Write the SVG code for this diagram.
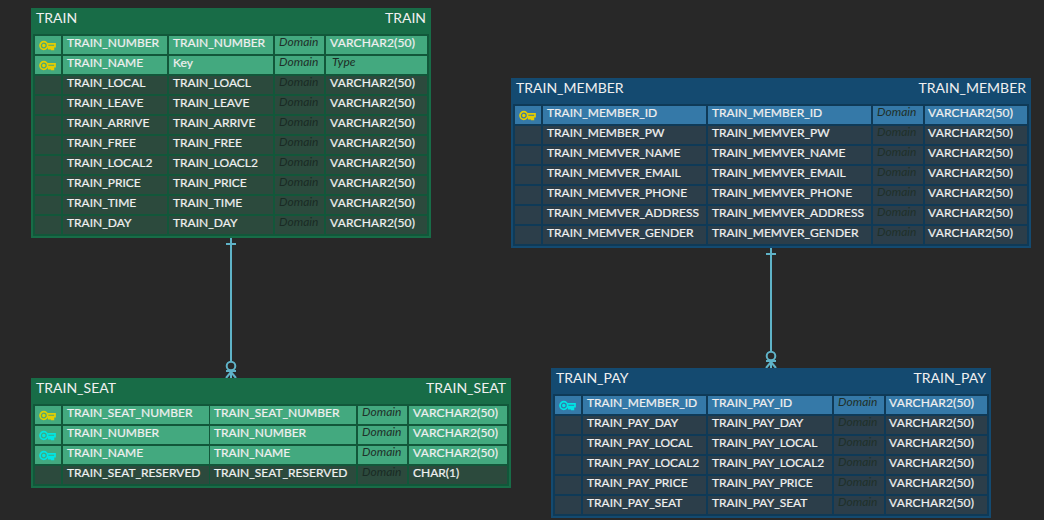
<svg xmlns="http://www.w3.org/2000/svg" width="1044" height="520" viewBox="0 0 1044 520">
<style>
text{font-family:"Lato","Noto Sans",sans-serif;font-size:12px;fill:#f0f0f0;stroke:#f0f0f0;stroke-width:.2px}
.h{font-size:14px;stroke-width:0}
.r{text-anchor:end}
.v{letter-spacing:.16px}
.d{font-style:italic;font-size:12px;fill:#1f3029;stroke-width:0}
.dm{font-style:italic;font-size:12px;fill:#1a2a24;stroke-width:0}
.t{font-style:italic;font-size:12px;fill:#1c2c24;stroke-width:0}
.go{fill:#186c47}.gb{fill:#12573a}.gp{fill:#43a97f}.gn{fill:#2c4a3d}
.bo{fill:#144a70}.bb{fill:#0f3a57}.bp{fill:#3579a8}.bn{fill:#2c3e4a}
.c{stroke:#5fb3c8;stroke-width:2;fill:none}
.k{fill:none;stroke-width:1.700}
.ky{stroke:#e4cd00}.kc{stroke:#00e5e5}
</style>
<defs>
<g id="key"><circle cx="3.800" cy="4.500" r="3.800"/><circle cx="3.800" cy="4.500" r="0.900"/><path d="M7.600 2.900H15V5.700H13.400V8.300H11.800V5.700H10.400V7.600H8.800V5.700H7.600"/></g>
</defs>
<rect width="1044" height="520" fill="#282828"/>
<g id="connectors">
<path class="c" d="M231 238V361.500M226 244H236M226 371H236M231 371V378M231 372L226 378M231 372L236 378"/>
<circle class="c" cx="231" cy="366" r="4.300"/>
<path class="c" d="M771 248V351.500M766 254H776M766 361H776M771 361V368M771 362L766 368M771 362L776 368"/>
<circle class="c" cx="771" cy="356" r="4.300"/>
</g>
<g id="train">
<rect class="go" x="31" y="8" width="400" height="230"/><rect class="gb" x="33" y="34" width="396" height="202"/>
<text class="h" x="36" y="23">TRAIN</text><text class="h r" x="426" y="23">TRAIN</text>
<rect class="gp" x="35" y="36" width="26" height="18"/><rect class="gp" x="63" y="36" width="104" height="18"/><rect class="gp" x="169" y="36" width="104" height="18"/><rect class="gp" x="275" y="36" width="49" height="18"/><rect class="gp" x="326" y="36" width="101" height="18"/>
<use href="#key" class="k ky" x="40" y="41"/>
<text x="67" y="47">TRAIN_NUMBER</text><text x="173" y="47">TRAIN_NUMBER</text><text class="d" x="279" y="46">Domain</text><text class="v" x="330" y="47">VARCHAR2(50)</text>
<rect class="gp" x="35" y="56" width="26" height="18"/><rect class="gp" x="63" y="56" width="104" height="18"/><rect class="gp" x="169" y="56" width="104" height="18"/><rect class="gp" x="275" y="56" width="49" height="18"/><rect class="gp" x="326" y="56" width="101" height="18"/>
<use href="#key" class="k ky" x="40" y="61"/>
<text x="67" y="67">TRAIN_NAME</text><text x="173" y="67">Key</text><text class="d" x="279" y="66">Domain</text><text class="t" x="332" y="66">Type</text>
<rect class="gn" x="35" y="76" width="26" height="18"/><rect class="gn" x="63" y="76" width="104" height="18"/><rect class="gn" x="169" y="76" width="104" height="18"/><rect class="gn" x="275" y="76" width="49" height="18"/><rect class="gn" x="326" y="76" width="101" height="18"/>
<text x="67" y="87">TRAIN_LOCAL</text><text x="173" y="87">TRAIN_LOACL</text><text class="dm" x="279" y="86">Domain</text><text class="v" x="330" y="87">VARCHAR2(50)</text>
<rect class="gn" x="35" y="96" width="26" height="18"/><rect class="gn" x="63" y="96" width="104" height="18"/><rect class="gn" x="169" y="96" width="104" height="18"/><rect class="gn" x="275" y="96" width="49" height="18"/><rect class="gn" x="326" y="96" width="101" height="18"/>
<text x="67" y="107">TRAIN_LEAVE</text><text x="173" y="107">TRAIN_LEAVE</text><text class="dm" x="279" y="106">Domain</text><text class="v" x="330" y="107">VARCHAR2(50)</text>
<rect class="gn" x="35" y="116" width="26" height="18"/><rect class="gn" x="63" y="116" width="104" height="18"/><rect class="gn" x="169" y="116" width="104" height="18"/><rect class="gn" x="275" y="116" width="49" height="18"/><rect class="gn" x="326" y="116" width="101" height="18"/>
<text x="67" y="127">TRAIN_ARRIVE</text><text x="173" y="127">TRAIN_ARRIVE</text><text class="dm" x="279" y="126">Domain</text><text class="v" x="330" y="127">VARCHAR2(50)</text>
<rect class="gn" x="35" y="136" width="26" height="18"/><rect class="gn" x="63" y="136" width="104" height="18"/><rect class="gn" x="169" y="136" width="104" height="18"/><rect class="gn" x="275" y="136" width="49" height="18"/><rect class="gn" x="326" y="136" width="101" height="18"/>
<text x="67" y="147">TRAIN_FREE</text><text x="173" y="147">TRAIN_FREE</text><text class="dm" x="279" y="146">Domain</text><text class="v" x="330" y="147">VARCHAR2(50)</text>
<rect class="gn" x="35" y="156" width="26" height="18"/><rect class="gn" x="63" y="156" width="104" height="18"/><rect class="gn" x="169" y="156" width="104" height="18"/><rect class="gn" x="275" y="156" width="49" height="18"/><rect class="gn" x="326" y="156" width="101" height="18"/>
<text x="67" y="167">TRAIN_LOCAL2</text><text x="173" y="167">TRAIN_LOACL2</text><text class="dm" x="279" y="166">Domain</text><text class="v" x="330" y="167">VARCHAR2(50)</text>
<rect class="gn" x="35" y="176" width="26" height="18"/><rect class="gn" x="63" y="176" width="104" height="18"/><rect class="gn" x="169" y="176" width="104" height="18"/><rect class="gn" x="275" y="176" width="49" height="18"/><rect class="gn" x="326" y="176" width="101" height="18"/>
<text x="67" y="187">TRAIN_PRICE</text><text x="173" y="187">TRAIN_PRICE</text><text class="dm" x="279" y="186">Domain</text><text class="v" x="330" y="187">VARCHAR2(50)</text>
<rect class="gn" x="35" y="196" width="26" height="18"/><rect class="gn" x="63" y="196" width="104" height="18"/><rect class="gn" x="169" y="196" width="104" height="18"/><rect class="gn" x="275" y="196" width="49" height="18"/><rect class="gn" x="326" y="196" width="101" height="18"/>
<text x="67" y="207">TRAIN_TIME</text><text x="173" y="207">TRAIN_TIME</text><text class="dm" x="279" y="206">Domain</text><text class="v" x="330" y="207">VARCHAR2(50)</text>
<rect class="gn" x="35" y="216" width="26" height="18"/><rect class="gn" x="63" y="216" width="104" height="18"/><rect class="gn" x="169" y="216" width="104" height="18"/><rect class="gn" x="275" y="216" width="49" height="18"/><rect class="gn" x="326" y="216" width="101" height="18"/>
<text x="67" y="227">TRAIN_DAY</text><text x="173" y="227">TRAIN_DAY</text><text class="dm" x="279" y="226">Domain</text><text class="v" x="330" y="227">VARCHAR2(50)</text>
</g>
<g id="train_seat">
<rect class="go" x="31" y="378" width="480" height="110"/><rect class="gb" x="33" y="404" width="476" height="82"/>
<text class="h" x="36" y="393">TRAIN_SEAT</text><text class="h r" x="506" y="393">TRAIN_SEAT</text>
<rect class="gp" x="35" y="406" width="26" height="18"/><rect class="gp" x="63" y="406" width="146" height="18"/><rect class="gp" x="210" y="406" width="146" height="18"/><rect class="gp" x="358" y="406" width="49" height="18"/><rect class="gp" x="409" y="406" width="98" height="18"/>
<use href="#key" class="k ky" x="40" y="411"/>
<text x="67" y="417">TRAIN_SEAT_NUMBER</text><text x="214" y="417">TRAIN_SEAT_NUMBER</text><text class="d" x="362" y="416">Domain</text><text class="v" x="413" y="417">VARCHAR2(50)</text>
<rect class="gp" x="35" y="426" width="26" height="18"/><rect class="gp" x="63" y="426" width="146" height="18"/><rect class="gp" x="210" y="426" width="146" height="18"/><rect class="gp" x="358" y="426" width="49" height="18"/><rect class="gp" x="409" y="426" width="98" height="18"/>
<use href="#key" class="k kc" x="40" y="431"/>
<text x="67" y="437">TRAIN_NUMBER</text><text x="214" y="437">TRAIN_NUMBER</text><text class="d" x="362" y="436">Domain</text><text class="v" x="413" y="437">VARCHAR2(50)</text>
<rect class="gp" x="35" y="446" width="26" height="18"/><rect class="gp" x="63" y="446" width="146" height="18"/><rect class="gp" x="210" y="446" width="146" height="18"/><rect class="gp" x="358" y="446" width="49" height="18"/><rect class="gp" x="409" y="446" width="98" height="18"/>
<use href="#key" class="k kc" x="40" y="451"/>
<text x="67" y="457">TRAIN_NAME</text><text x="214" y="457">TRAIN_NAME</text><text class="d" x="362" y="456">Domain</text><text class="v" x="413" y="457">VARCHAR2(50)</text>
<rect class="gn" x="35" y="466" width="26" height="18"/><rect class="gn" x="63" y="466" width="146" height="18"/><rect class="gn" x="210" y="466" width="146" height="18"/><rect class="gn" x="358" y="466" width="49" height="18"/><rect class="gn" x="409" y="466" width="98" height="18"/>
<text x="67" y="477">TRAIN_SEAT_RESERVED</text><text x="214" y="477">TRAIN_SEAT_RESERVED</text><text class="dm" x="362" y="476">Domain</text><text x="413" y="477">CHAR(1)</text>
</g>
<g id="train_member">
<rect class="bo" x="511" y="78" width="520" height="170"/><rect class="bb" x="513" y="104" width="516" height="142"/>
<text class="h" x="516" y="93">TRAIN_MEMBER</text><text class="h r" x="1026" y="93">TRAIN_MEMBER</text>
<rect class="bp" x="515" y="106" width="26" height="18"/><rect class="bp" x="543" y="106" width="163" height="18"/><rect class="bp" x="708" y="106" width="163" height="18"/><rect class="bp" x="873" y="106" width="50" height="18"/><rect class="bp" x="925" y="106" width="102" height="18"/>
<use href="#key" class="k ky" x="520" y="111"/>
<text x="547" y="117">TRAIN_MEMBER_ID</text><text x="712" y="117">TRAIN_MEMBER_ID</text><text class="d" x="877" y="116">Domain</text><text class="v" x="928" y="117">VARCHAR2(50)</text>
<rect class="bn" x="515" y="126" width="26" height="18"/><rect class="bn" x="543" y="126" width="163" height="18"/><rect class="bn" x="708" y="126" width="163" height="18"/><rect class="bn" x="873" y="126" width="50" height="18"/><rect class="bn" x="925" y="126" width="102" height="18"/>
<text x="547" y="137">TRAIN_MEMBER_PW</text><text x="712" y="137">TRAIN_MEMVER_PW</text><text class="d" x="877" y="136">Domain</text><text class="v" x="928" y="137">VARCHAR2(50)</text>
<rect class="bn" x="515" y="146" width="26" height="18"/><rect class="bn" x="543" y="146" width="163" height="18"/><rect class="bn" x="708" y="146" width="163" height="18"/><rect class="bn" x="873" y="146" width="50" height="18"/><rect class="bn" x="925" y="146" width="102" height="18"/>
<text x="547" y="157">TRAIN_MEMVER_NAME</text><text x="712" y="157">TRAIN_MEMVER_NAME</text><text class="d" x="877" y="156">Domain</text><text class="v" x="928" y="157">VARCHAR2(50)</text>
<rect class="bn" x="515" y="166" width="26" height="18"/><rect class="bn" x="543" y="166" width="163" height="18"/><rect class="bn" x="708" y="166" width="163" height="18"/><rect class="bn" x="873" y="166" width="50" height="18"/><rect class="bn" x="925" y="166" width="102" height="18"/>
<text x="547" y="177">TRAIN_MEMVER_EMAIL</text><text x="712" y="177">TRAIN_MEMVER_EMAIL</text><text class="d" x="877" y="176">Domain</text><text class="v" x="928" y="177">VARCHAR2(50)</text>
<rect class="bn" x="515" y="186" width="26" height="18"/><rect class="bn" x="543" y="186" width="163" height="18"/><rect class="bn" x="708" y="186" width="163" height="18"/><rect class="bn" x="873" y="186" width="50" height="18"/><rect class="bn" x="925" y="186" width="102" height="18"/>
<text x="547" y="197">TRAIN_MEMVER_PHONE</text><text x="712" y="197">TRAIN_MEMVER_PHONE</text><text class="d" x="877" y="196">Domain</text><text class="v" x="928" y="197">VARCHAR2(50)</text>
<rect class="bn" x="515" y="206" width="26" height="18"/><rect class="bn" x="543" y="206" width="163" height="18"/><rect class="bn" x="708" y="206" width="163" height="18"/><rect class="bn" x="873" y="206" width="50" height="18"/><rect class="bn" x="925" y="206" width="102" height="18"/>
<text x="547" y="217">TRAIN_MEMVER_ADDRESS</text><text x="712" y="217">TRAIN_MEMVER_ADDRESS</text><text class="d" x="877" y="216">Domain</text><text class="v" x="928" y="217">VARCHAR2(50)</text>
<rect class="bn" x="515" y="226" width="26" height="18"/><rect class="bn" x="543" y="226" width="163" height="18"/><rect class="bn" x="708" y="226" width="163" height="18"/><rect class="bn" x="873" y="226" width="50" height="18"/><rect class="bn" x="925" y="226" width="102" height="18"/>
<text x="547" y="237">TRAIN_MEMVER_GENDER</text><text x="712" y="237">TRAIN_MEMVER_GENDER</text><text class="d" x="877" y="236">Domain</text><text class="v" x="928" y="237">VARCHAR2(50)</text>
</g>
<g id="train_pay">
<rect class="bo" x="551" y="368" width="440" height="150"/><rect class="bb" x="553" y="394" width="436" height="122"/>
<text class="h" x="556" y="383">TRAIN_PAY</text><text class="h r" x="986" y="383">TRAIN_PAY</text>
<rect class="bp" x="555" y="396" width="26" height="18"/><rect class="bp" x="583" y="396" width="123" height="18"/><rect class="bp" x="708" y="396" width="124" height="18"/><rect class="bp" x="834" y="396" width="50" height="18"/><rect class="bp" x="886" y="396" width="101" height="18"/>
<use href="#key" class="k kc" x="560" y="401"/>
<text x="587" y="407">TRAIN_MEMBER_ID</text><text x="712" y="407">TRAIN_PAY_ID</text><text class="d" x="838" y="406">Domain</text><text class="v" x="889" y="407">VARCHAR2(50)</text>
<rect class="bn" x="555" y="416" width="26" height="18"/><rect class="bn" x="583" y="416" width="123" height="18"/><rect class="bn" x="708" y="416" width="124" height="18"/><rect class="bn" x="834" y="416" width="50" height="18"/><rect class="bn" x="886" y="416" width="101" height="18"/>
<text x="587" y="427">TRAIN_PAY_DAY</text><text x="712" y="427">TRAIN_PAY_DAY</text><text class="d" x="838" y="426">Domain</text><text class="v" x="889" y="427">VARCHAR2(50)</text>
<rect class="bn" x="555" y="436" width="26" height="18"/><rect class="bn" x="583" y="436" width="123" height="18"/><rect class="bn" x="708" y="436" width="124" height="18"/><rect class="bn" x="834" y="436" width="50" height="18"/><rect class="bn" x="886" y="436" width="101" height="18"/>
<text x="587" y="447">TRAIN_PAY_LOCAL</text><text x="712" y="447">TRAIN_PAY_LOCAL</text><text class="d" x="838" y="446">Domain</text><text class="v" x="889" y="447">VARCHAR2(50)</text>
<rect class="bn" x="555" y="456" width="26" height="18"/><rect class="bn" x="583" y="456" width="123" height="18"/><rect class="bn" x="708" y="456" width="124" height="18"/><rect class="bn" x="834" y="456" width="50" height="18"/><rect class="bn" x="886" y="456" width="101" height="18"/>
<text x="587" y="467">TRAIN_PAY_LOCAL2</text><text x="712" y="467">TRAIN_PAY_LOCAL2</text><text class="d" x="838" y="466">Domain</text><text class="v" x="889" y="467">VARCHAR2(50)</text>
<rect class="bn" x="555" y="476" width="26" height="18"/><rect class="bn" x="583" y="476" width="123" height="18"/><rect class="bn" x="708" y="476" width="124" height="18"/><rect class="bn" x="834" y="476" width="50" height="18"/><rect class="bn" x="886" y="476" width="101" height="18"/>
<text x="587" y="487">TRAIN_PAY_PRICE</text><text x="712" y="487">TRAIN_PAY_PRICE</text><text class="d" x="838" y="486">Domain</text><text class="v" x="889" y="487">VARCHAR2(50)</text>
<rect class="bn" x="555" y="496" width="26" height="18"/><rect class="bn" x="583" y="496" width="123" height="18"/><rect class="bn" x="708" y="496" width="124" height="18"/><rect class="bn" x="834" y="496" width="50" height="18"/><rect class="bn" x="886" y="496" width="101" height="18"/>
<text x="587" y="507">TRAIN_PAY_SEAT</text><text x="712" y="507">TRAIN_PAY_SEAT</text><text class="d" x="838" y="506">Domain</text><text class="v" x="889" y="507">VARCHAR2(50)</text>
</g>
</svg>
